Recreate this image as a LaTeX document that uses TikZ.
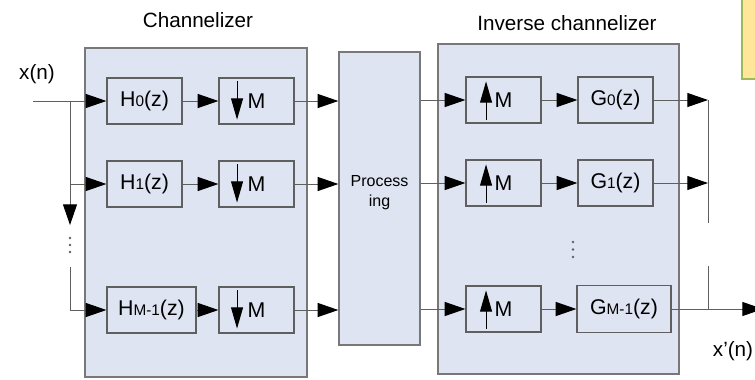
\documentclass[tikz,border=0pt]{standalone}
\usepackage{fontspec}
\setmainfont{Liberation Sans}
\usetikzlibrary{arrows.meta,fit,positioning}

\definecolor{bankblue}{RGB}{222,228,242}
\definecolor{bankline}{RGB}{120,120,120}
\definecolor{wiregray}{RGB}{95,95,95}
\definecolor{notefill}{RGB}{255,230,153}
\definecolor{noteline}{RGB}{155,187,89}

\newcommand{\subidx}[1]{{\fontsize{11.5}{13}\selectfont #1}}

\tikzset{
  bank/.style={draw=bankline, fill=bankblue, line width=1pt, inner sep=0pt},
  block/.style={draw=wiregray, line width=0.9pt, minimum width=56.25pt,
    minimum height=34.5pt, inner sep=0pt, font=\fontsize{16}{18}\selectfont},
  title/.style={font=\fontsize{15.5}{18}\selectfont, anchor=base, inner sep=0pt},
  wire/.style={draw=wiregray, line width=0.75pt},
  flow/.style={wire, -{Triangle[length=15.5pt,width=10.5pt,color=black]}},
  rate/.style={black, line width=0.75pt, -{Triangle[length=16pt,width=9pt]}},
  dot/.style={fill=wiregray, draw=none},
}

\begin{document}
\begin{tikzpicture}[x=0.75pt,y=-0.75pt]
\useasboundingbox (0,0) rectangle (755,379);

% note, cut off at the corner
\draw[draw=noteline, fill=notefill, line width=0.9pt] (742,-10) rectangle (775,79);

% the three banks
\coordinate (chanNW) at (85,48);
\coordinate (chanSE) at (307,377);
\node[bank, fit=(chanNW)(chanSE)] (chan) {};

\coordinate (procNW) at (339,52);
\coordinate (procSE) at (420,345);
\node[bank, fit=(procNW)(procSE), align=center,
  font=\fontsize{12}{15}\selectfont] (proc) {Process\\ing};

\coordinate (invNW) at (438,44);
\coordinate (invSE) at (679,374);
\node[bank, fit=(invNW)(invSE)] (inv) {};

\node[title] (chantitle) at (198,27.5) {Channelizer};
\node[title] (invtitle) at (567,30.7) {Inverse channelizer};

% analysis filters and decimators
\node[block] (h0) at (144.5,101) {H\subidx{0}(z)};
\node[block] (h1) at (144.5,184) {H\subidx{1}(z)};
\node[block, minimum width=66.75pt] (hm) at (151.5,310) {H\subidx{M-1}(z)};

\node[block] (dm0) at (256.5,101) {M};
\node[block] (dm1) at (256.5,184) {M};
\node[block] (dmm) at (256.5,310) {M};

% expanders and synthesis filters
\node[block] (um0) at (503.5,100) {M};
\node[block] (um1) at (503.5,183) {M};
\node[block] (umm) at (503.5,309) {M};

\node[block] (g0) at (615.5,100) {G\subidx{0}(z)};
\node[block] (g1) at (615.5,183) {G\subidx{1}(z)};
\node[block, minimum width=70.5pt, minimum height=35.25pt] (gm) at (624,309) {G\subidx{M-1}(z)};

% down and up marks
\foreach \b in {dm0,dm1,dmm}
  \draw[rate] ([xshift=-14.6pt,yshift=-3pt]\b.north) -- ([xshift=-14.6pt,yshift=3.75pt]\b.south);
\foreach \b in {um0,um1,umm}
  \draw[rate] ([xshift=-13.1pt,yshift=3pt]\b.south) -- ([xshift=-13.1pt,yshift=-3.75pt]\b.north);

% input side
\coordinate (xin) at (33,101);
\coordinate (split) at (70,101);
\node[title] (xlabel) at (37,79) {x(n)};
\draw[wire] (xin) -- (split);
\draw[flow] (split) -- (h0);
\draw[flow] (split |- h1) -- (h1);
\coordinate (ldrop) at (70,225);
\draw[flow] (split) -- (ldrop);
\foreach \y in {238,245,252}
  \fill[dot] (70,\y) circle (1.1pt);
\coordinate (lrise) at (70,267);
\draw[flow] (lrise) |- (hm);

\draw[flow] (h0) -- (dm0);
\draw[flow] (h1) -- (dm1);
\draw[flow] (hm) -- (dmm);

\draw[flow] (dm0) -- (dm0 -| proc.west);
\draw[flow] (dm1) -- (dm1 -| proc.west);
\draw[flow] (dmm) -- (dmm -| proc.west);

% output side
\draw[flow] (proc.east |- um0) -- (um0);
\draw[flow] (proc.east |- um1) -- (um1);
\draw[flow] (proc.east |- umm) -- (umm);

\draw[flow] (um0) -- (g0);
\draw[flow] (um1) -- (g1);
\draw[flow] (umm) -- (gm);

\foreach \y in {242,249.5,257}
  \fill[dot] (573,\y) circle (1.1pt);

\coordinate (rtop) at (708,100);
\coordinate (rgap) at (708,223);
\coordinate (rjoin) at (708,266);
\coordinate (xout) at (763,309);
\draw[flow] (g0) -- (rtop);
\draw[flow] (g1) -- (rtop |- g1);
\draw[wire] (rtop) -- (rgap);
\draw[wire] (rjoin) -- (rjoin |- gm);
\draw[flow] (gm) -- (xout);
\node[title] (xoutlabel) at (733,356) {x'(n)};

\end{tikzpicture}
\end{document}
